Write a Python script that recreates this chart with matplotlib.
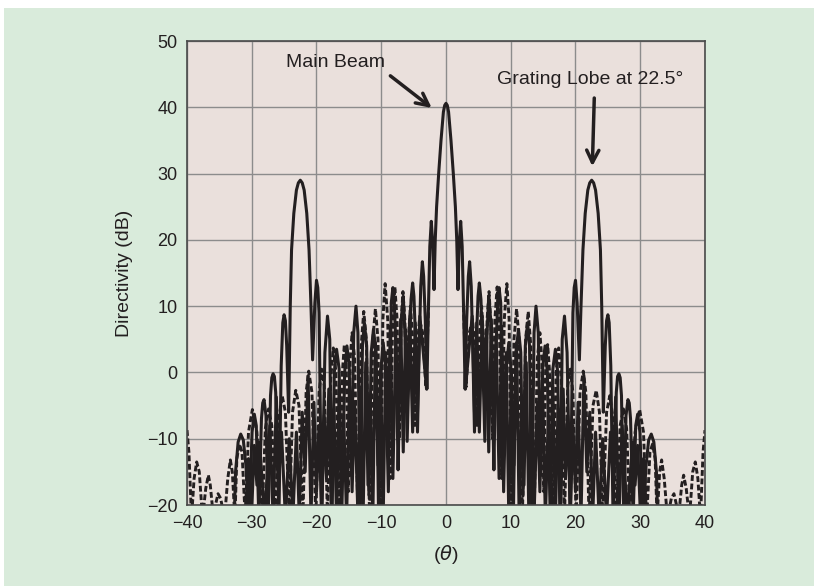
import numpy as np
import matplotlib.pyplot as plt
from matplotlib.patches import Rectangle

plt.rcParams['font.family'] = ['Liberation Sans', 'DejaVu Sans']

# ==== Data (positive half of a symmetric pattern) ====

# solid curve with main beam and grating lobe
solid_x = [0.0, 0.2, 0.4, 0.77, 1.13, 1.45, 1.66, 1.85, 2.05, 2.27, 2.5, 2.75, 2.95,
           3.2, 3.45, 3.65, 3.9, 4.15, 4.4, 4.7, 4.95, 5.15, 5.4, 5.7, 6.0,
           6.3, 6.6, 6.9, 7.15, 7.4, 7.7, 8.0, 8.2, 8.45, 8.9, 9.35, 9.7,
           10.0, 10.4, 10.8, 11.2, 11.55, 11.9, 12.25, 12.6, 12.9, 13.25, 13.6, 13.9,
           14.25, 14.6, 14.95, 15.3, 15.65, 16.1, 16.5, 16.9, 17.25, 17.6, 17.95, 18.3,
           18.7, 19.2, 19.6, 19.8, 20.0, 20.25, 20.6, 20.85, 21.15, 21.5, 21.9, 22.2,
           22.5, 22.8, 23.1, 23.5, 23.85, 24.05, 24.3, 24.6, 24.8, 25.0, 25.2, 25.45,
           25.8, 26.3, 26.5, 26.7, 26.9, 27.1, 27.45, 27.8, 28.1, 28.3, 28.5, 28.9,
           29.3, 29.6, 29.95, 30.4, 30.9, 31.3, 31.7, 32.1, 32.5, 32.7]
solid_y = [40.6, 40.3, 39.3, 35.0, 30.0, 25.0, 20.0, 12.5, 19.5, 22.8, 19.0, 8.0, -2.5,
           8.0, 14.5, 16.7, 13.0, 3.0, -9.0, 5.0, 11.5, 13.5, 11.0, 1.0, -10.4,
           5.0, 11.5, 8.0, -2.0, -14.7, 3.0, 11.0, 12.8, 10.5, -18.0, 1.0, 4.5,
           1.0, -22.0, 3.0, 6.5, 3.0, -18.5, 4.0, 7.5, 4.0, -22.0, 6.0, 10.0,
           6.0, -15.6, 1.0, 4.0, 0.0, -22.0, 0.5, 3.5, 0.0, -22.0, 5.0, 8.5,
           3.0, -22.0, 9.0, 12.8, 13.9, 10.5, 1.9, 10.0, 18.5, 24.0, 27.5, 28.6,
           29.0, 28.6, 27.5, 24.0, 18.5, 10.0, -6.0, 4.0, 7.8, 8.7, 7.5, 1.0,
           -22.0, -3.0, -0.6, -0.2, -0.8, -3.5, -22.0, -6.5, -4.1, -4.6, -7.0, -22.0,
           -8.0, -6.3, -9.0, -22.0, -14.0, -10.2, -9.3, -10.5, -15.0, -22.0]

# second solid curve, lower side lobes
solid2_x = [3.0, 3.6, 4.05, 4.4, 4.75, 5.15, 5.6, 5.95, 6.25, 6.6, 7.0, 7.4,
            7.75, 8.2, 8.6, 8.95, 9.3, 9.7, 10.1, 10.5, 10.9, 11.3, 11.7, 12.05,
            12.4, 12.8, 13.2, 13.65, 14.1, 14.5, 14.9, 15.35, 15.8, 16.15, 16.5, 16.9,
            17.3, 17.7, 18.1, 18.45, 18.8, 19.2, 19.6, 20.0, 20.4, 20.85, 21.3, 21.75,
            22.2, 22.65, 23.1, 23.65, 24.2, 24.8, 25.4, 25.8, 26.2, 26.7, 27.2, 28.0,
            28.8, 29.2, 29.6, 30.05, 30.5, 31.0]
solid2_y = [-2.5, 4.0, 8.5, -6.0, 7.5, -9.0, 8.5, -4.0, 6.5, -12.0, 8.0, -8.0,
            5.5, -16.0, 7.0, -10.0, 3.0, -22.0, 0.5, -14.0, 4.5, -22.0, -3.5, -17.0,
            1.5, -22.0, -3.0, -20.0, -4.5, -18.0, -1.5, -22.0, -6.5, -19.0, -2.0, -22.0,
            -5.5, -22.0, -2.5, -16.0, -6.5, -22.0, -8.0, -18.0, -4.5, -22.0, -0.5, -15.0,
            -6.0, -22.0, -9.0, -22.0, -10.0, -22.0, -9.0, -16.0, -3.7, -22.0, -8.0, -22.0,
            -10.5, -17.0, -11.0, -22.0, -13.0, -22.0]

# dashed curve
dash_x = [2.7, 3.1, 3.6, 4.1, 4.5, 4.8, 5.2, 5.5, 5.8, 6.05, 6.35, 6.65,
          6.95, 7.2, 7.55, 7.9, 8.25, 8.6, 9.0, 9.4, 9.75, 10.1, 10.5, 10.9,
          11.3, 11.8, 12.3, 12.7, 13.1, 13.6, 14.1, 14.5, 14.8, 15.1, 15.4, 15.7,
          16.0, 16.5, 17.0, 17.4, 17.8, 18.3, 18.8, 19.2, 19.6, 20.1, 20.7, 21.2,
          21.6, 22.1, 22.7, 23.2, 23.7, 24.2, 24.8, 25.3, 25.8, 26.3, 26.9, 27.4,
          27.9, 28.4, 29.2, 29.9, 30.5, 31.0, 31.5, 31.9, 32.3, 32.6, 33.0, 33.3,
          33.7, 34.2, 34.8, 35.2, 35.6, 35.9, 36.4, 36.7, 37.1, 37.6, 38.1, 38.5,
          38.9, 39.3, 39.7, 40.0]
dash_y = [10.0, -2.2, 6.0, 8.0, 3.0, -8.0, 6.0, 10.0, 5.0, -6.0, 8.0, 12.2,
          7.0, -10.0, 8.0, 12.9, 7.0, -16.0, 8.0, 13.4, 8.0, -22.0, 5.0, 9.6,
          5.0, -22.0, 5.0, 9.2, 4.0, -22.0, 2.0, 6.0, 2.0, -18.0, 1.0, 4.2,
          0.0, -22.0, 0.0, 3.7, -1.0, -22.0, -2.0, 0.5, -3.0, -22.0, -3.0, 0.2,
          -3.0, -22.0, -5.0, -2.7, -6.0, -22.0, -6.0, -3.5, -7.0, -22.0, -8.0, -5.5,
          -8.5, -22.0, -9.0, -5.6, -9.0, -22.0, -12.0, -10.8, -13.0, -22.0, -15.0, -13.2,
          -16.0, -22.0, -19.0, -18.3, -20.0, -22.0, -17.0, -15.5, -17.5, -22.0, -15.0, -13.5,
          -16.0, -22.0, -12.0, -8.7]


def mirror(x, y):
    # pattern is symmetric about broadside
    x = np.asarray(x, dtype=float)
    y = np.asarray(y, dtype=float)
    if x[0] == 0:
        return np.concatenate([-x[::-1], x[1:]]), np.concatenate([y[::-1], y[1:]])
    return (np.concatenate([-x[::-1], [np.nan], x]),
            np.concatenate([y[::-1], [np.nan], y]))


# ==== Plot ====

fig = plt.figure(figsize=(8.14, 5.86), dpi=100, facecolor='white')
fig.patches.append(Rectangle((4 / 814, 0), 1, 1 - 8 / 586, transform=fig.transFigure,
                             facecolor='#d9ebdb', edgecolor='none', zorder=-1))
ax = fig.add_axes([0.2297, 0.1382, 0.6364, 0.7918])
ax.set_facecolor('#eae0dc')

ink = '#231f20'
mx, my = mirror(dash_x, dash_y)
ax.plot(mx, my, color=ink, lw=2.1, ls=(0, (2.0, 0.9)), solid_joinstyle='round')
for xs, ys in [(solid2_x, solid2_y), (solid_x, solid_y)]:
    mx, my = mirror(xs, ys)
    ax.plot(mx, my, color=ink, lw=2.2, solid_joinstyle='round', solid_capstyle='round')

ax.set_xlim(-40, 40)
ax.set_ylim(-20, 50)
ax.set_xticks(np.arange(-40, 41, 10))
ax.set_yticks(np.arange(-20, 51, 10))
ax.set_xticklabels(['\u221240', '\u221230', '\u221220', '\u221210', '0', '10', '20', '30', '40'])
ax.set_yticklabels(['\u221220', '\u221210', '0', '10', '20', '30', '40', '50'])
ax.tick_params(length=0, labelsize=13, pad=7, colors='#231f20')
ax.grid(True, color='#8c8c8c', lw=1.0)
ax.set_axisbelow(True)
for s in ax.spines.values():
    s.set_color('#4a4a4a')
    s.set_linewidth(1.2)

ax.set_ylabel('Directivity (dB)', fontsize=14, color=ink, labelpad=10)
ax.set_xlabel(r'($\theta$)', fontsize=14, color=ink, labelpad=8)

ax.annotate('Main Beam', xy=(-2.2, 39.9), xytext=(-17.0, 46.8), fontsize=14, color=ink,
            ha='center', va='center',
            arrowprops=dict(arrowstyle='->', lw=2.5, color=ink, mutation_scale=22,
                            shrinkA=0, shrinkB=0, relpos=(1.05, -0.3)))
ax.annotate('', xy=(22.6, 31.1), xytext=(22.9, 41.4),
            arrowprops=dict(arrowstyle='->', lw=2.5, color=ink, mutation_scale=22,
                            shrinkA=0, shrinkB=0))
ax.text(22.2, 44.2, 'Grating Lobe at 22.5\u00b0', fontsize=14, color=ink,
        ha='center', va='center')

fig.savefig('out.png', dpi=100, facecolor=fig.get_facecolor())
